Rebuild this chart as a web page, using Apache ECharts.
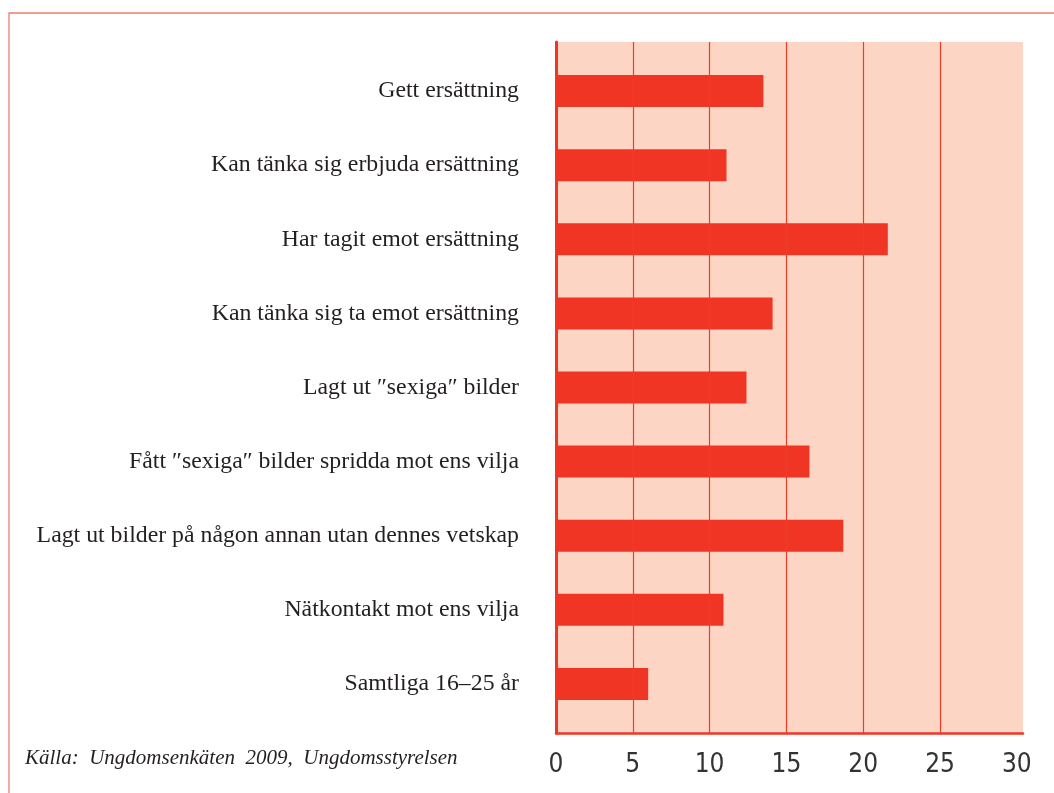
<!DOCTYPE html>
<html>
<head>
<meta charset="utf-8">
<script src="https://cdn.jsdelivr.net/npm/echarts@6/dist/echarts.min.js"></script>
<style>
html,body{margin:0;padding:0;background:#fff;}
#chart{width:1054px;height:793px;}
</style>
</head>
<body>
<div id="chart"></div>
<script>
const categories = [
  'Gett ersättning',
  'Kan tänka sig erbjuda ersättning',
  'Har tagit emot ersättning',
  'Kan tänka sig ta emot ersättning',
  'Lagt ut ″sexiga″ bilder',
  'Fått ″sexiga″ bilder spridda mot ens vilja',
  'Lagt ut bilder på någon annan utan dennes vetskap',
  'Nätkontakt mot ens vilja',
  'Samtliga 16–25 år'
];
const values = [13.5, 11.1, 21.6, 14.1, 12.4, 16.5, 18.7, 10.9, 6.0];
const xTicks = [0, 5, 10, 15, 20, 25, 30];
const gridTicks = [5, 10, 15, 20, 25];
const sourceText = 'Källa:  Ungdomsenkäten  2009,  Ungdomsstyrelsen';

const RED = '#F03525';
const BG = '#FDD5C4';
const XMAX = 30.4;

const chart = echarts.init(document.getElementById('chart'), null, {renderer: 'canvas'});
chart.setOption({
  animation: false,
  grid: [
    {left: 556, top: 54, width: 467, height: 667, containLabel: false},
    {left: 556, top: 42, width: 467, height: 691, show: true, backgroundColor: BG, borderWidth: 0, z: 0}
  ],
  xAxis: [
    {gridIndex: 0, type: 'value', min: 0, max: XMAX, show: false},
    {
      gridIndex: 1, type: 'value', min: 0, max: XMAX, interval: 5,
      axisLine: {show: true, onZero: false, lineStyle: {color: RED, width: 2.5}},
      axisTick: {show: false},
      splitLine: {show: false},
      axisLabel: {
        margin: 19,
        color: '#333',
        fontFamily: 'Liberation Sans Narrow, DejaVu Sans Condensed',
        fontSize: 26,
        formatter: function (v) { return xTicks.indexOf(v) >= 0 ? String(v) : ''; }
      }
    }
  ],
  yAxis: [
    {
      gridIndex: 0, type: 'category', data: categories, inverse: true,
      axisLine: {show: false}, axisTick: {show: false}, splitLine: {show: false},
      axisLabel: {margin: 37, color: '#231F20', fontFamily: 'Liberation Serif', fontSize: 23.8, padding: [0, 0, 4, 0]}
    },
    {
      gridIndex: 1, type: 'value', min: 0, max: 1,
      axisLine: {show: true, lineStyle: {color: RED, width: 3}},
      axisTick: {show: false}, axisLabel: {show: false}, splitLine: {show: false}
    }
  ],
  series: [
    {
      type: 'bar',
      xAxisIndex: 0, yAxisIndex: 0,
      data: values,
      barWidth: 32,
      itemStyle: {color: RED},
      z: 3
    },
    {
      type: 'scatter',
      xAxisIndex: 1, yAxisIndex: 1,
      data: [],
      silent: true,
      z: 1,
      markLine: {
        silent: true,
        symbol: 'none',
        label: {show: false},
        lineStyle: {color: '#EE3B2A', width: 1.2, type: 'solid'},
        data: gridTicks.map(function (v) { return {xAxis: v}; })
      }
    }
  ],
  graphic: [
    {
      type: 'polyline', silent: true, z: 10,
      shape: {points: [[9, 800], [9, 13], [1060, 13]]},
      style: {stroke: '#F07A70', lineWidth: 1.3, fill: null}
    },
    {
      type: 'text', left: 25, top: 748, silent: true,
      style: {text: sourceText, fontFamily: 'Liberation Serif', fontStyle: 'italic', fontSize: 21, fill: '#231F20'}
    }
  ]
});
</script>
</body>
</html>
